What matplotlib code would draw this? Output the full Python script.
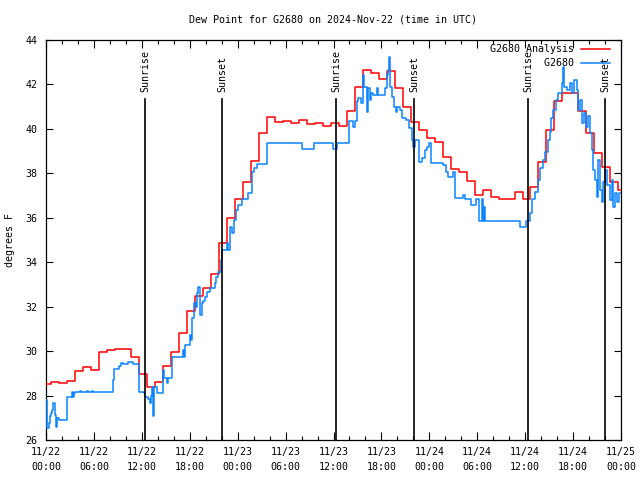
import numpy as np
import pandas as pd
import matplotlib
matplotlib.use("Agg")
import matplotlib.pyplot as plt
import matplotlib.dates as mdates

# ---------------- data ----------------
start = pd.Timestamp("2024-11-22 00:00")

# Hourly analysis values (each step starts 20 minutes before the hour)
analysis_vals = [28.5, 28.6, 28.55, 28.64, 29.1, 29.3, 29.14, 29.95, 30.04, 30.08,
                 30.08, 29.72, 28.95, 28.39, 28.6, 29.32, 29.94, 30.8, 31.79, 32.5,
                 32.86, 33.47, 34.85, 35.98, 36.83, 37.63, 38.57, 39.8, 40.54, 40.3,
                 40.34, 40.25, 40.39, 40.22, 40.25, 40.13, 40.25, 40.13, 40.8, 41.9,
                 42.65, 42.5, 42.25, 42.62, 41.83, 41.0, 40.33, 39.95, 39.58, 39.4,
                 38.72, 38.18, 38.08, 37.66, 37.03, 37.25, 36.92, 36.85, 36.85, 37.15,
                 36.85, 37.37, 38.51, 39.95, 41.27, 41.63, 41.63, 40.82, 39.83, 38.9,
                 38.27, 37.6, 37.25]
analysis_hours = [h - 1/3 for h in range(len(analysis_vals))]

# Station observations (hours since start, degrees F)
obs_hours = [0.00, 0.16, 0.38, 0.50, 0.63, 0.75, 0.88, 1.17, 1.25, 1.42, 1.63, 2.59, 2.67,
             3.22, 3.34, 3.54, 3.67, 4.26, 4.38, 5.13, 5.26, 5.76, 5.89, 8.35, 8.51, 9.18,
             9.35, 9.68, 10.31, 10.89, 11.65, 12.27, 12.40, 12.81, 13.02, 13.19, 13.31,
             13.44, 13.56, 13.86, 14.69, 14.81, 15.19, 15.31, 15.74, 17.19, 17.32, 17.44,
             18.03, 18.16, 18.32, 18.53, 18.75, 18.87, 19.07, 19.28, 19.50, 19.62, 19.91,
             20.20, 20.54, 21.13, 21.29, 21.54, 21.88, 22.08, 22.63, 22.83, 23.04, 23.29,
             23.58, 23.79, 24.04, 24.51, 25.33, 25.76, 26.05, 26.46, 27.64, 32.02, 33.56,
             35.98, 36.40, 37.98, 38.48, 38.69, 38.91, 39.11, 39.41, 39.66, 39.86, 40.16,
             40.36, 40.57, 40.70, 40.91, 41.41, 41.61, 42.45, 42.66, 42.86, 42.99, 43.08,
             43.29, 43.58, 43.83, 43.99, 44.33, 44.54, 45.08, 45.49, 45.79, 45.99, 46.21,
             46.75, 47.05, 47.46, 47.75, 48.00, 48.17, 49.75, 50.09, 50.38, 51.00, 51.22,
             52.25, 52.47, 53.18, 53.85, 54.26, 54.64, 54.76, 54.85, 54.97, 59.35, 60.10,
             60.61, 60.90, 61.23, 61.65, 61.86, 62.20, 62.48, 62.90, 63.11, 63.24, 63.52,
             63.86, 64.15, 64.58, 64.78, 64.90, 65.20, 65.61, 65.83, 66.12, 66.45, 66.66,
             66.87, 67.07, 67.36, 67.62, 67.91, 68.12, 68.33, 68.53, 68.75, 68.96, 69.16,
             69.37, 69.58, 69.79, 70.00, 70.21, 70.63, 70.83, 71.04, 71.25, 71.54, 71.79]
obs_vals = [27.78, 26.53, 26.75, 27.08, 27.2, 27.35, 27.65, 27.13, 26.6, 26.98, 26.9, 27.43, 27.92,
            28.17, 27.92, 28.1, 28.16, 28.22, 28.16, 28.22, 28.16, 28.22, 28.16, 28.7, 29.18, 29.33,
            29.45, 29.42, 29.5, 29.42, 28.15, 28.1, 27.95, 27.85, 27.65, 28.0, 28.4,
            27.1, 28.4, 28.1, 29.15, 28.8, 28.55, 28.8, 29.75, 30.05, 29.75, 30.28,
            30.73, 30.5, 31.48, 32.15, 32.0, 32.6, 32.87, 31.63, 32.15, 32.27, 32.45,
            32.67, 32.83, 33.05, 33.35, 33.57, 34.1, 34.55, 34.85, 34.55, 35.6, 35.3,
            35.9, 36.35, 36.58, 36.83, 37.1, 38.08, 38.23, 38.42, 39.38, 39.08, 39.38,
            39.08, 39.38, 40.37, 40.1, 40.37, 41.25, 41.4, 41.15, 42.43, 41.9, 40.77,
            41.83, 41.3, 41.6, 41.53, 41.83, 41.53, 41.83, 42.43, 42.65, 43.25, 41.9,
            41.45, 41.0, 40.77, 41.0, 40.85, 40.48, 40.4, 40.03, 39.5, 39.2, 39.5,
            38.53, 38.68, 39.05, 39.2, 39.38, 38.45, 38.38, 38.08, 37.85, 38.08, 36.88,
            37.03, 36.85, 36.58, 36.85, 35.86, 36.85, 35.86, 36.5, 35.86, 35.6, 35.86,
            36.2, 36.85, 37.18, 37.7, 38.23, 38.6, 38.98, 39.5, 39.88, 40.48, 40.85,
            41.3, 41.6, 42.05, 42.8, 41.9, 41.75, 42.05, 41.6, 42.2, 41.75, 40.85,
            41.3, 40.25, 40.7, 40.1, 40.6, 39.8, 39.05, 38.15, 37.7, 36.95, 38.6,
            37.25, 36.73, 37.63, 38.15, 37.48, 36.8, 37.7, 36.5, 37.1, 36.73, 37.1]

sun_events = ["2024-11-22 12:24", "2024-11-22 22:02", "2024-11-23 12:19",
              "2024-11-23 22:05", "2024-11-24 12:21", "2024-11-24 22:00"]
sun_labels = ["Sunrise", "Sunset", "Sunrise", "Sunset", "Sunrise", "Sunset"]

y_ticks = [26, 28, 30, 32, 34, 36, 38, 40, 42, 44]

# ---------------- plot ----------------
plt.rcParams['font.family'] = ['DejaVu Sans Mono']
FS = 7.2

fig = plt.figure(figsize=(6.4, 4.8), dpi=100)
ax = fig.add_axes([46/640, 40/480, 575/640, 400/480])

def to_time(hours):
    return start + pd.to_timedelta(np.asarray(hours, dtype=float), unit="h")

ax_x = to_time(list(analysis_hours) + [analysis_hours[-1] + 1])
ax_y = list(analysis_vals) + [analysis_vals[-1]]
ax.plot(ax_x, ax_y, drawstyle='steps-post', color='#ff0000', lw=1.1,
        label='G2680 Analysis', zorder=3)

ob_x = to_time(list(obs_hours) + [72.0])
ob_y = list(obs_vals) + [obs_vals[-1]]
ax.plot(ob_x, ob_y, drawstyle='steps-post', color='#0a84ff', lw=1.1,
        label='         G2680', zorder=4)

for t, lab in zip(sun_events, sun_labels):
    tt = pd.Timestamp(t)
    ax.plot([tt, tt], [26, 41.35], color='black', lw=1.2, zorder=5)
    ax.text(tt, 41.66, lab, rotation=90, ha='center', va='bottom',
            fontsize=FS, zorder=6)

ax.set_xlim(start, start + pd.Timedelta(hours=72))
ax.set_ylim(26, 44)
ax.set_yticks(y_ticks)

ax.xaxis.set_major_locator(mdates.HourLocator(byhour=[0, 6, 12, 18]))
ax.xaxis.set_minor_locator(mdates.HourLocator(byhour=range(0, 24, 2)))
ax.xaxis.set_major_formatter(mdates.DateFormatter('%m/%d\n%H:%M'))

ax.tick_params(axis='both', which='both', direction='in', top=True, right=True,
               labelsize=FS, width=0.8, color='black')
ax.tick_params(axis='x', which='major', length=6, pad=5)
ax.tick_params(axis='x', which='minor', length=3)
ax.tick_params(axis='y', which='major', length=5, pad=6)
for lbl in ax.get_xticklabels():
    lbl.set_linespacing(1.6)

for s in ax.spines.values():
    s.set_linewidth(0.9)
    s.set_color('black')

fig.text(333/640, 1 - 19/480, 'Dew Point for G2680 on 2024-Nov-22 (time in UTC)',
         ha='center', va='center', fontsize=FS)
fig.text(10/640, 0.5, 'degrees F', rotation=90, ha='center', va='center', fontsize=FS)

leg = ax.legend(loc='upper right', bbox_to_anchor=(610/640, 1 - 44/480),
                bbox_transform=fig.transFigure, frameon=False, markerfirst=False,
                fontsize=FS, handlelength=2.9, handletextpad=0.7, labelspacing=0.45,
                borderpad=0, borderaxespad=0)
leg.set_zorder(10)

fig.savefig('out.png', dpi=100)
